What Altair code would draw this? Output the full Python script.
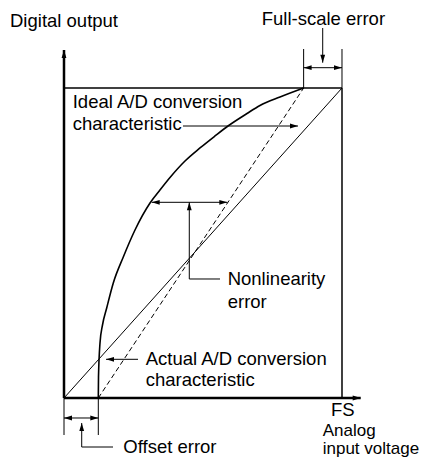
import altair as alt
import pandas as pd

# Input is a fraction of FS (0..1), output a fraction of full-scale code (0..1)
actual_in = [0.1234, 0.1241, 0.1295, 0.1385, 0.1536, 0.1773, 0.2133, 0.2554, 0.3094, 0.3453,
             0.3813, 0.4353, 0.4892, 0.5432, 0.5899, 0.6583, 0.7050, 0.7770, 0.8620]
actual_out = [0.0, 0.0677, 0.1774, 0.2355, 0.2903, 0.3710, 0.4548, 0.5419, 0.6290, 0.6710,
              0.7113, 0.7645, 0.8065, 0.8452, 0.8774, 0.9177, 0.9435, 0.9710, 1.0]
ideal_in = [0.0, 1.0]
ideal_out = [0.0, 1.0]
shifted_in = [0.1234, 0.8620]   # ideal shifted by offset, dashed
shifted_out = [0.0, 1.0]

# axes (thick)
axis_x = [0.0, 0.0]
axis_y = [0.0, 0.0]
axis_x2 = [0.0, 1.0673]
axis_y2 = [1.1226, 0.0]

# full-scale box
box_x = [0.0, 1.0]
box_y = [1.0, 0.0]
box_x2 = [1.0, 1.0]
box_y2 = [1.0, 1.0]

# annotation leader lines
lead_x = [0.862, 1.0, 0.862, 0.9306, 0.428, 0.3155, 0.4507, 0.4507, 0.2662, 0.0, 0.1234, 0.0, 0.0637, 0.0637]
lead_y = [1.0, 1.0, 1.0655, 1.1935, 0.8774, 0.6313, 0.6313, 0.3839, 0.1248, 0.0, 0.0, -0.0645, -0.0806, -0.1581]
lead_x2 = [0.862, 1.0, 1.0, 0.9306, 0.8417, 0.5874, 0.4507, 0.5612, 0.1511, 0.0, 0.1234, 0.1234, 0.0637, 0.1763]
lead_y2 = [1.1258, 1.1258, 1.0655, 1.0816, 0.8774, 0.6313, 0.3839, 0.3839, 0.1248, -0.1194, -0.1194, -0.0645, -0.1581, -0.1581]

# arrow heads: tip position and direction (degrees, clockwise from right)
tip_x = [0.0, 1.0673, 0.862, 1.0, 0.9306, 0.8417, 0.3155, 0.5874, 0.4507, 0.1511, 0.0, 0.1234, 0.0637]
tip_y = [1.1226, 0.0, 1.0655, 1.0655, 1.0816, 0.8774, 0.6313, 0.6313, 0.6313, 0.1248, -0.0645, -0.0645, -0.0806]
tip_dir = [270, 0, 180, 0, 90, 0, 180, 0, 270, 180, 180, 0, 270]

# labels
label_text = ["Digital output", "Full-scale error", "Ideal A/D conversion", "characteristic",
              "Nonlinearity", "error", "Actual A/D conversion", "characteristic",
              "FS", "Analog", "input voltage", "Offset error"]
label_x = [-0.1942, 0.7112, 0.0313, 0.0313, 0.5888, 0.5888, 0.2939, 0.2939, 0.9604, 0.9306, 0.9306, 0.2133]
label_y = [1.1958, 1.2048, 0.9345, 0.8645, 0.3645, 0.2913, 0.1065, 0.0387, -0.0581, -0.1210, -0.1806, -0.1774]
label_size = [18.5, 18.5, 18.5, 18.5, 18.5, 18.5, 18.5, 18.5, 18.5, 17, 17, 18.5]

xs = alt.Scale(domain=[-0.201439, 1.284173], nice=False, zero=False)
ys = alt.Scale(domain=[-0.193548, 1.258065], nice=False, zero=False)


def X(f="x"):
    return alt.X(f + ":Q", scale=xs, axis=None)


def Y(f="y"):
    return alt.Y(f + ":Q", scale=ys, axis=None)


def segs(x, y, x2, y2):
    return pd.DataFrame({"x": x, "y": y, "x2": x2, "y2": y2})


axes = alt.Chart(segs(axis_x, axis_y, axis_x2, axis_y2)).mark_rule(color="black", strokeWidth=2.5).encode(
    x=X(), y=Y(), x2="x2:Q", y2="y2:Q")
box = alt.Chart(segs(box_x, box_y, box_x2, box_y2)).mark_rule(color="black", strokeWidth=1.5).encode(
    x=X(), y=Y(), x2="x2:Q", y2="y2:Q")
leads = alt.Chart(segs(lead_x, lead_y, lead_x2, lead_y2)).mark_rule(color="black", strokeWidth=1).encode(
    x=X(), y=Y(), x2="x2:Q", y2="y2:Q")

ideal = alt.Chart(pd.DataFrame({"x": ideal_in, "y": ideal_out})).mark_line(
    color="black", strokeWidth=1).encode(x=X(), y=Y())
shifted = alt.Chart(pd.DataFrame({"x": shifted_in, "y": shifted_out})).mark_line(
    color="black", strokeWidth=1, strokeDash=[5, 3]).encode(x=X(), y=Y())
actual = alt.Chart(pd.DataFrame({"x": actual_in, "y": actual_out})).mark_line(
    color="black", strokeWidth=1.6, interpolate="monotone").encode(x=X(), y=Y())

heads = alt.Chart(pd.DataFrame({"x": tip_x, "y": tip_y, "a": tip_dir})).mark_point(
    shape="M0,0L-1,-0.3L-1,0.3Z", filled=True, color="black", opacity=1, size=256, strokeWidth=0
).encode(x=X(), y=Y(), angle=alt.Angle("a:Q", scale=None))

labels = alt.Chart(pd.DataFrame({"x": label_x, "y": label_y, "t": label_text, "s": label_size})).mark_text(
    align="left", baseline="alphabetic", font="Liberation Sans", color="black"
).encode(x=X(), y=Y(), text="t:N", size=alt.Size("s:Q", scale=None))

chart = alt.layer(box, leads, ideal, shifted, actual, axes, heads, labels).properties(
    width=413, height=450, padding=0, autosize="none", background="white"
).configure_view(stroke=None)

chart.save("out.html", embed_options={"renderer": "svg", "actions": False})
